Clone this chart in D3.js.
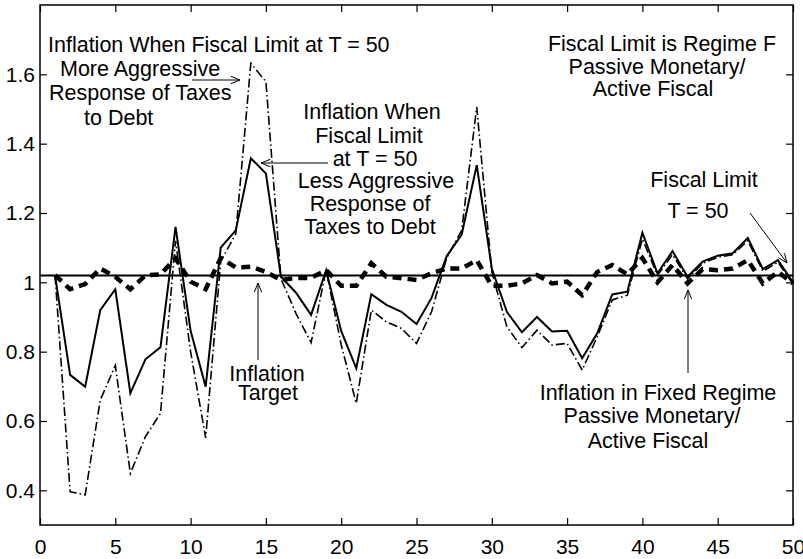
<html>
<meta charset="utf-8">
<style>
  body { margin: 0; background: #fff; }
  text { font-family: "Liberation Sans", Arial, sans-serif; fill: #000; }
</style>
<body>
<script src="https://d3js.org/d3.v7.min.js"></script>
<script>
// periods 1..50
var periods = d3.range(1, 51);

// inflation when fiscal limit hits at T = 50, less aggressive tax response (solid)
var lessAggressive = [1.02, 0.733, 0.699, 0.92, 0.98, 0.68, 0.778, 0.813, 1.16, 0.86,
  0.699, 1.10, 1.15, 1.358, 1.314, 1.016, 0.97, 0.906, 1.035, 0.86,
  0.752, 0.966, 0.935, 0.915, 0.88, 0.955, 1.075, 1.138, 1.338, 1.04,
  0.915, 0.856, 0.90, 0.858, 0.86, 0.781, 0.853, 0.965, 0.973, 1.143,
  1.026, 1.09, 1.016, 1.06, 1.077, 1.084, 1.128, 1.038, 1.064, 1.0];

// more aggressive tax response (dash-dot)
var moreAggressive = [1.02, 0.396, 0.387, 0.66, 0.76, 0.449, 0.555, 0.622, 1.12, 0.80,
  0.551, 1.06, 1.14, 1.632, 1.579, 1.01, 0.91, 0.826, 1.035, 0.82,
  0.651, 0.92, 0.886, 0.867, 0.824, 0.915, 1.07, 1.15, 1.506, 1.03,
  0.872, 0.812, 0.862, 0.819, 0.824, 0.747, 0.843, 0.949, 0.963, 1.125,
  1.02, 1.08, 1.01, 1.055, 1.072, 1.08, 1.12, 1.032, 1.058, 0.995];

// fixed regime, passive monetary / active fiscal (thick dashed)
var fixedRegime = [1.021, 0.98, 0.995, 1.04, 1.016, 0.98, 1.02, 1.023, 1.069, 1.002,
  0.98, 1.07, 1.043, 1.045, 1.03, 1.007, 1.012, 1.013, 1.035, 0.99,
  0.99, 1.055, 1.016, 1.012, 1.007, 1.026, 1.04, 1.04, 1.064, 0.99,
  0.99, 0.997, 1.021, 0.997, 1.002, 0.963, 1.03, 1.05, 1.023, 1.07,
  1.0, 1.05, 0.997, 1.038, 1.035, 1.04, 1.064, 0.997, 1.03, 0.997];

var inflationTarget = 1.02;

var xTicks = [0, 5, 10, 15, 20, 25, 30, 35, 40, 45, 50];
var yTicks = [0.4, 0.6, 0.8, 1.0, 1.2, 1.4, 1.6];
var yTickLabels = ["0.4", "0.6", "0.8", "1", "1.2", "1.4", "1.6"];

var W = 803, H = 559;
var margin = {top: 5, right: 10, bottom: 34, left: 40};
var width = W - margin.left - margin.right;
var height = H - margin.top - margin.bottom;

var x = d3.scaleLinear().domain([0, 50]).range([0, width]);
var y = d3.scaleLinear().domain([0.3, 1.8]).range([height, 0]);

var svg = d3.select("body").append("svg")
    .attr("width", W)
    .attr("height", H)
  .append("g")
    .attr("transform", "translate(" + margin.left + "," + margin.top + ")");

// axes, ticks pointing inward
var tickLen = 7;
var bottomAxis = svg.append("g")
    .attr("transform", "translate(0," + height + ")")
    .call(d3.axisBottom(x).tickValues(xTicks).tickSizeInner(-tickLen).tickSizeOuter(0).tickPadding(14));
var leftAxis = svg.append("g")
    .call(d3.axisLeft(y).tickValues(yTicks).tickFormat(function(d, i) { return yTickLabels[i]; })
      .tickSizeInner(-tickLen).tickSizeOuter(0).tickPadding(5));
svg.append("g")
    .call(d3.axisTop(x).tickValues(xTicks).tickSizeInner(-tickLen).tickSizeOuter(0).tickFormat(""));
svg.append("g")
    .attr("transform", "translate(" + width + ",0)")
    .call(d3.axisRight(y).tickValues(yTicks).tickSizeInner(-tickLen).tickSizeOuter(0).tickFormat(""));

svg.selectAll(".domain").remove();
svg.selectAll(".tick line").attr("stroke", "#000").attr("stroke-width", 1.2);
svg.selectAll(".tick text").style("font-size", "21px").attr("fill", "#000")
    .style("font-family", "'Liberation Sans', Arial, sans-serif");
bottomAxis.selectAll(".tick text").attr("dy", "0.71em");

svg.append("rect")
    .attr("width", width)
    .attr("height", height)
    .attr("fill", "none")
    .attr("stroke", "#000")
    .attr("stroke-width", 1.5);

var line = d3.line()
    .x(function(d) { return x(d.t); })
    .y(function(d) { return y(d.v); });

function pairs(vals) {
  return periods.map(function(t, i) { return {t: t, v: vals[i]}; });
}

// more aggressive: dash-dot
svg.append("path")
    .datum(pairs(moreAggressive))
    .attr("d", line)
    .attr("fill", "none")
    .attr("stroke", "#000")
    .attr("stroke-width", 1.6)
    .attr("stroke-dasharray", "9,3,1.5,3");

// less aggressive: solid
svg.append("path")
    .datum(pairs(lessAggressive))
    .attr("d", line)
    .attr("fill", "none")
    .attr("stroke", "#000")
    .attr("stroke-width", 2);

// fixed regime: thick dashed
svg.append("path")
    .datum(pairs(fixedRegime))
    .attr("d", line)
    .attr("fill", "none")
    .attr("stroke", "#000")
    .attr("stroke-width", 4.5)
    .attr("stroke-dasharray", "9,6");

// inflation target
svg.append("path")
    .datum([{t: 0, v: inflationTarget}, {t: 50, v: inflationTarget}])
    .attr("d", line)
    .attr("fill", "none")
    .attr("stroke", "#000")
    .attr("stroke-width", 2);

// annotations (page pixels)
var page = d3.select("svg").append("g");

var labels = [
  {x: 48, y: 52, a: "start", s: "Inflation When Fiscal Limit at T = 50"},
  {x: 60, y: 76, a: "start", s: "More Aggressive"},
  {x: 49, y: 100, a: "start", s: "Response of Taxes"},
  {x: 84, y: 125, a: "start", s: "to Debt"},
  {x: 372, y: 119, a: "middle", s: "Inflation When"},
  {x: 369, y: 143, a: "middle", s: "Fiscal Limit"},
  {x: 375, y: 166, a: "middle", s: "at T = 50"},
  {x: 376, y: 188, a: "middle", s: "Less Aggressive"},
  {x: 370, y: 211, a: "middle", s: "Response of"},
  {x: 370, y: 234, a: "middle", s: "Taxes to Debt"},
  {x: 662, y: 51, a: "middle", s: "Fiscal Limit is Regime F"},
  {x: 657, y: 74, a: "middle", s: "Passive Monetary/"},
  {x: 653, y: 96, a: "middle", s: "Active Fiscal"},
  {x: 704, y: 187, a: "middle", s: "Fiscal Limit"},
  {x: 698, y: 218, a: "middle", s: "T = 50"},
  {x: 658, y: 400, a: "middle", s: "Inflation in Fixed Regime"},
  {x: 652, y: 423, a: "middle", s: "Passive Monetary/"},
  {x: 648, y: 448, a: "middle", s: "Active Fiscal"},
  {x: 267, y: 381, a: "middle", s: "Inflation"},
  {x: 268, y: 400, a: "middle", s: "Target"}
];

page.selectAll("text.note")
  .data(labels)
  .enter()
  .append("text")
    .attr("class", "note")
    .attr("x", function(d) { return d.x; })
    .attr("y", function(d) { return d.y; })
    .attr("text-anchor", function(d) { return d.a; })
    .style("font-size", "21.5px")
    .text(function(d) { return d.s; });

var arrows = [
  [192, 80, 240, 80],
  [328, 163, 261, 163],
  [750, 213, 787, 263],
  [688, 373, 688, 290],
  [258, 360, 258, 283]
];

arrows.forEach(function(a) {
  var ang = Math.atan2(a[3] - a[1], a[2] - a[0]);
  var hl = 10, hw = 0.38;
  page.append("line")
      .attr("x1", a[0]).attr("y1", a[1])
      .attr("x2", a[2]).attr("y2", a[3])
      .attr("stroke", "#000").attr("stroke-width", 1);
  page.append("path")
      .attr("d", "M" + (a[2] - hl * Math.cos(ang - hw)) + "," + (a[3] - hl * Math.sin(ang - hw)) +
                 "L" + a[2] + "," + a[3] +
                 "L" + (a[2] - hl * Math.cos(ang + hw)) + "," + (a[3] - hl * Math.sin(ang + hw)))
      .attr("fill", "none")
      .attr("stroke", "#000")
      .attr("stroke-width", 1);
});
</script>
</body>
</html>
